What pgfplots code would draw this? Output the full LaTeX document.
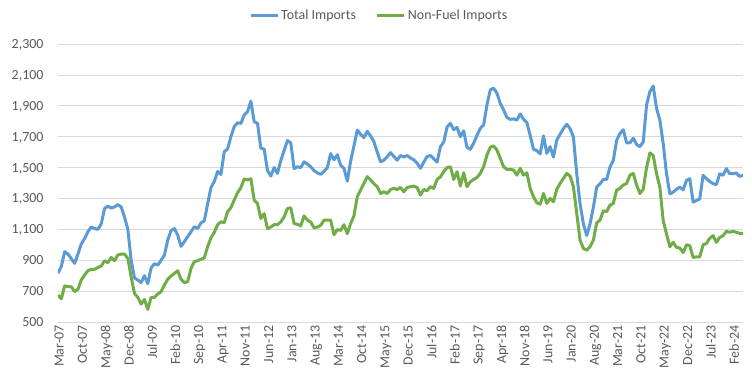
\documentclass[border=0pt]{standalone}
\usepackage{fontspec}
\setmainfont{Carlito}
\usepackage{pgfplots}
\usepackage{pgfplotstable}
\pgfplotsset{compat=1.18}
\definecolor{totalblue}{HTML}{5B9BD5}
\definecolor{nonfuelgreen}{HTML}{70AD47}
\definecolor{gridgray}{HTML}{D9D9D9}
\definecolor{labelgray}{HTML}{595959}
\pgfplotstableread{
i total nonfuel
0 815 675
1 860 650
2 955 734
3 940 729
4 910 728
5 880 697
6 940 712
7 1005 772
8 1040 804
9 1085 832
10 1115 841
11 1105 841
12 1100 854
13 1135 862
14 1235 897
15 1250 884
16 1238 918
17 1245 897
18 1260 934
19 1245 940
20 1180 940
21 1100 912
22 900 793
23 785 685
24 772 659
25 755 616
26 800 646
27 748 582
28 850 659
29 878 659
30 868 681
31 900 697
32 932 740
33 1030 776
34 1092 798
35 1105 815
36 1063 832
37 990 776
38 1020 755
39 1052 761
40 1084 847
41 1117 891
42 1105 897
43 1142 906
44 1155 915
45 1265 988
46 1370 1045
47 1410 1080
48 1475 1130
49 1455 1149
50 1603 1143
51 1620 1214
52 1700 1240
53 1765 1290
54 1790 1337
55 1786 1370
56 1840 1426
57 1862 1420
58 1930 1428
59 1797 1289
60 1786 1267
61 1625 1170
62 1620 1202
63 1480 1104
64 1445 1115
65 1500 1130
66 1462 1130
67 1545 1148
68 1610 1180
69 1675 1235
70 1660 1239
71 1493 1137
72 1505 1133
73 1500 1122
74 1537 1187
75 1523 1159
76 1505 1148
77 1480 1109
78 1466 1115
79 1456 1126
80 1475 1159
81 1500 1159
82 1590 1159
83 1550 1065
84 1583 1098
85 1515 1093
86 1495 1130
87 1412 1072
88 1540 1137
89 1640 1187
90 1743 1311
91 1715 1354
92 1694 1398
93 1735 1441
94 1705 1420
95 1668 1395
96 1600 1376
97 1537 1332
98 1548 1343
99 1570 1332
100 1597 1358
101 1572 1365
102 1548 1358
103 1578 1371
104 1568 1343
105 1578 1371
106 1562 1376
107 1550 1380
108 1528 1371
109 1495 1322
110 1535 1358
111 1572 1350
112 1578 1376
113 1557 1365
114 1535 1423
115 1635 1440
116 1665 1473
117 1762 1500
118 1786 1505
119 1745 1423
120 1760 1473
121 1700 1380
122 1738 1466
123 1630 1376
124 1618 1408
125 1658 1423
126 1708 1436
127 1754 1462
128 1776 1505
129 1905 1581
130 2003 1631
131 2014 1640
132 1981 1614
133 1916 1560
134 1873 1505
135 1825 1488
136 1812 1488
137 1815 1484
138 1808 1451
139 1847 1495
140 1812 1451
141 1791 1466
142 1708 1365
143 1618 1311
144 1610 1272
145 1588 1263
146 1705 1332
147 1592 1268
148 1635 1300
149 1568 1278
150 1678 1360
151 1716 1397
152 1752 1430
153 1780 1462
154 1752 1445
155 1698 1376
156 1460 1203
157 1265 1030
158 1135 976
159 1060 965
160 1135 987
161 1243 1030
162 1373 1142
163 1395 1160
164 1423 1220
165 1423 1214
166 1503 1257
167 1546 1268
168 1676 1354
169 1720 1365
170 1745 1387
171 1660 1397
172 1660 1451
173 1690 1462
174 1650 1387
175 1635 1332
176 1666 1360
177 1905 1500
178 1992 1595
179 2028 1579
180 1883 1460
181 1807 1373
182 1655 1157
183 1460 1070
184 1330 987
185 1341 1016
186 1360 983
187 1373 979
188 1356 950
189 1417 1000
190 1428 994
191 1276 918
192 1287 922
193 1297 922
194 1450 1000
195 1428 1009
196 1410 1042
197 1395 1059
198 1390 1016
199 1460 1048
200 1450 1059
201 1493 1087
202 1460 1081
203 1460 1087
204 1465 1081
205 1443 1074
206 1450 1074
}\imports
\begin{document}
\begin{tikzpicture}
\path[use as bounding box] (-58bp,-58bp) rectangle (694bp,322bp);
\begin{axis}[
  at={(0,0)}, anchor=south west,
  scale only axis, width=685bp, height=278bp,
  xmin=0, xmax=206, ymin=500, ymax=2300,
  axis line style={draw=none},
  major tick length=0pt,
  ymajorgrids, grid style={draw=gridgray, line width=0.75bp},
  ytick={500,700,900,1100,1300,1500,1700,1900,2100,2300},
  yticklabels={500,700,900,{1,100},{1,300},{1,500},{1,700},{1,900},{2,100},{2,300}},
  xtick={0,7,...,203},
  xticklabels={Mar-07,Oct-07,May-08,Dec-08,Jul-09,Feb-10,Sep-10,Apr-11,Nov-11,Jun-12,Jan-13,Aug-13,Mar-14,Oct-14,May-15,Dec-15,Jul-16,Feb-17,Sep-17,Apr-18,Nov-18,Jun-19,Jan-20,Aug-20,Mar-21,Oct-21,May-22,Dec-22,Jul-23,Feb-24},
  tick label style={font=\fontsize{14}{16}\selectfont, text=labelgray},
  yticklabel style={anchor=east, text depth=0pt, xshift=-11bp},
  xticklabel style={rotate=90, anchor=east, text depth=0pt, yshift=-1bp},
  legend style={at={(0.469,1.104)}, anchor=center, draw=none, fill=none,
    font=\fontsize{14}{16}\selectfont, text=labelgray,
    /tikz/every even column/.append style={column sep=18bp}},
  legend columns=2,
  legend image code/.code={\draw[#1] (0bp,0bp) -- (27bp,0bp);},
]
\addplot[totalblue, line width=3bp, line join=round] table[x=i, y=total] {\imports};
\addlegendentry{Total Imports}
\addplot[nonfuelgreen, line width=3bp, line join=round] table[x=i, y=nonfuel] {\imports};
\addlegendentry{Non-Fuel Imports}
\end{axis}
\end{tikzpicture}
\end{document}
